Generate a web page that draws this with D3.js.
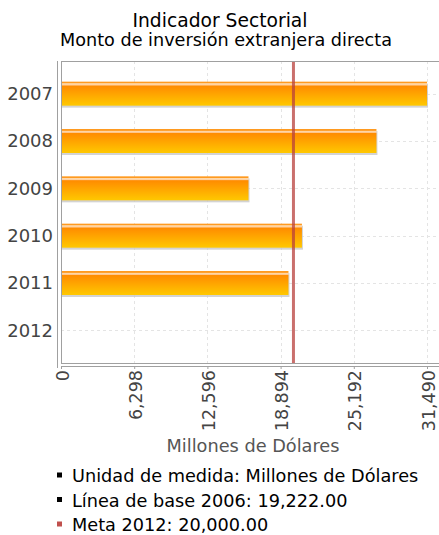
<!DOCTYPE html>
<html><head><meta charset="utf-8">
<script src="https://cdn.jsdelivr.net/npm/d3@7/dist/d3.min.js"></script>
<style>body{margin:0;background:#fff}svg{display:block;font-family:"DejaVu Sans",sans-serif}</style>
</head><body>
<svg id="c" width="439" height="535"></svg>
<script>
const categories = ["2007","2008","2009","2010","2011","2012"];
const values = [31490, 27140, 16130, 20730, 19570, null];
const tickValues = [0, 6298, 12596, 18894, 25192, 31490];
const goal = 20000;
const legendItems = [
  {label:"Unidad de medida: Millones de Dólares", color:"#000"},
  {label:"Línea de base 2006: 19,222.00", color:"#000"},
  {label:"Meta 2012: 20,000.00", color:"#c0504d"}
];

const svg = d3.select("#c");
const L = 61, R = 439, T = 61, B = 363;
const x = d3.scaleLinear().domain([0, 31490]).range([L, 427]);
const y = d3.scalePoint().domain(categories).range([T, B]).padding(0.69);

const defs = svg.append("defs");
const g = defs.append("linearGradient").attr("id","bar").attr("x1",0).attr("y1",0).attr("x2",0).attr("y2",1);
[[0,"#ff9a20"],[0.06,"#ff9a20"],[0.08,"#ffd9a8"],[0.14,"#ffd0a0"],[0.18,"#ff8c00"],[1,"#ffc800"]].forEach(([o,c])=>g.append("stop").attr("offset",o).attr("stop-color",c));

// titles
svg.append("text").attr("x",220).attr("y",27).attr("text-anchor","middle").attr("font-size",19.5).attr("fill","#000")
  .attr("textLength",175).attr("lengthAdjust","spacingAndGlyphs").text("Indicador Sectorial");
svg.append("text").attr("x",226).attr("y",46).attr("text-anchor","middle").attr("font-size",17.5).attr("fill","#000")
  .attr("textLength",332).attr("lengthAdjust","spacingAndGlyphs").text("Monto de inversión extranjera directa");

// grid
const grid = svg.append("g").attr("stroke","#e4e4e4").attr("stroke-dasharray","3,3").attr("stroke-width",1);
tickValues.slice(1).forEach(v=>grid.append("line").attr("x1",Math.round(x(v))+0.5).attr("x2",Math.round(x(v))+0.5).attr("y1",T).attr("y2",B));
categories.forEach(c=>grid.append("line").attr("x1",L).attr("x2",R).attr("y1",Math.round(y(c))+0.5).attr("y2",Math.round(y(c))+0.5));

// bars
const bh = 24;
const data = categories.map((c,i)=>({c,v:values[i]})).filter(d=>d.v!=null);
svg.append("g").selectAll("rect").data(data).join("rect")
  .attr("x",L+1).attr("y",d=>y(d.c)-bh/2+2).attr("width",d=>x(d.v)-L).attr("height",bh).attr("fill","#c8c8c8").attr("opacity",0.8);
svg.append("g").selectAll("rect").data(data).join("rect")
  .attr("x",L).attr("y",d=>y(d.c)-bh/2).attr("width",d=>x(d.v)-L).attr("height",bh).attr("fill","url(#bar)");

// goal line
svg.append("line").attr("x1",x(goal)).attr("x2",x(goal)).attr("y1",T).attr("y2",B).attr("stroke","#b8403c").attr("stroke-opacity",0.75).attr("stroke-width",3);

// plot border lines
svg.append("line").attr("x1",L).attr("x2",R).attr("y1",T+0.5).attr("y2",T+0.5).attr("stroke","#a0a0a0");
svg.append("line").attr("x1",L+0.5).attr("x2",L+0.5).attr("y1",T).attr("y2",B).attr("stroke","#a0a0a0");
svg.append("line").attr("x1",L).attr("x2",R).attr("y1",B+0.5).attr("y2",B+0.5).attr("stroke","#a0a0a0");

// axes
const xAxis = svg.append("g").attr("transform",`translate(0,${B+3})`)
  .call(d3.axisBottom(x).tickValues(tickValues).tickFormat(d3.format(",")).tickSize(3).tickSizeOuter(0));
xAxis.select(".domain").attr("stroke","#a0a0a0").attr("d",`M${L},0.5H${R}`);
xAxis.selectAll(".tick line").attr("stroke","#a0a0a0");
xAxis.selectAll(".tick text").attr("font-size",17.5).attr("fill","#444").attr("font-family","DejaVu Sans")
  .attr("transform","rotate(-90)").attr("text-anchor","end").attr("x",-4).attr("y",1).attr("dy","0.35em");

const yAxis = svg.append("g").attr("transform",`translate(${L-3},0)`)
  .call(d3.axisLeft(y).tickSize(0).tickPadding(5));
yAxis.select(".domain").attr("stroke","#a0a0a0").attr("d",`M-0.5,${T}V${B+5}`);
yAxis.selectAll(".tick text").attr("font-size",18).attr("fill","#444").attr("font-family","DejaVu Sans");

svg.append("text").attr("x",253).attr("y",452).attr("text-anchor","middle").attr("font-size",17.5).attr("fill","#555")
  .attr("textLength",173).attr("lengthAdjust","spacingAndGlyphs").text("Millones de Dólares");

// legend
const lg = svg.append("g");
legendItems.forEach((d,i)=>{
  const yy = 482 + i*24.5;
  lg.append("rect").attr("x",57).attr("y",yy-9.5).attr("width",5).attr("height",5).attr("fill",d.color);
  lg.append("text").attr("x",72).attr("y",yy).attr("font-size",17.7).attr("fill","#000").text(d.label);
});
</script>
</body></html>
